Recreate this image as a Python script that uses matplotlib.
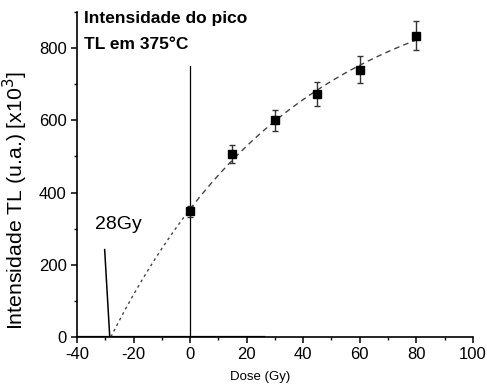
import numpy as np
import matplotlib
matplotlib.use("Agg")
import matplotlib.pyplot as plt
from matplotlib.ticker import MultipleLocator

plt.rcParams['font.family'] = ['Liberation Sans', 'DejaVu Sans']
plt.rcParams['axes.unicode_minus'] = False

dose = [0, 15, 30, 45, 60, 80]
intensity = [348, 507, 600, 673, 740, 835]
errors = [15, 25, 30, 33, 37, 40]
x_intercept = -28

fig = plt.figure(figsize=(4.87, 3.90), dpi=100)
ax = fig.add_axes([0.158, 0.136, 0.813, 0.833])

# saturating exponential fit y = A(1 - exp(-(x - x0)/k)) with x0 fixed at the intercept
d = np.array(dose, float)
yv = np.array(intensity, float)
best = None
for k in np.linspace(20, 300, 2801):
    f = 1 - np.exp(-(d - x_intercept) / k)
    A = np.dot(f, yv) / np.dot(f, f)
    r = np.sum((A * f - yv) ** 2)
    if best is None or r < best[0]:
        best = (r, A, k)
_, A, k = best
model = lambda x: A * (1 - np.exp(-(x - x_intercept) / k))
xf_fit = np.linspace(0, 80, 200)
xf_ext = np.linspace(x_intercept, 0, 100)
ax.plot(xf_fit, model(xf_fit), color='#444444', lw=1.0, ls=(0, (4, 3)))
ax.plot(xf_ext, model(xf_ext), color='#444444', lw=1.0, ls=(0, (2, 2.5)))

ax.errorbar(dose, intensity, yerr=errors, fmt='s', color='black', ms=5.5,
            ecolor='#333333', elinewidth=1.0, capsize=2.5, capthick=1.0, zorder=5)

ax.plot([0, 0], [0, 750], color='black', lw=0.9)
ax.plot([-40, 26], [0, 0], color='black', lw=1.6, zorder=1)
ax.plot([-30.2, -28.4], [242, 0], color='black', lw=1.1)
ax.text(-33.5, 298, '28Gy', fontsize=14)
ax.text(-37.6, 902, 'Intensidade do pico\nTL em 375°C', fontsize=12.5, fontweight='bold',
        va='top', linespacing=1.85)

ax.set_xlim(-40, 100)
ax.set_ylim(0, 900)
ax.xaxis.set_major_locator(MultipleLocator(20))
ax.xaxis.set_minor_locator(MultipleLocator(10))
ax.yaxis.set_major_locator(MultipleLocator(200))
ax.yaxis.set_minor_locator(MultipleLocator(100))
ax.set_yticks([0, 200, 400, 600, 800])
for s in ['top', 'right']:
    ax.spines[s].set_visible(False)
ax.spines['left'].set_linewidth(1.2)
ax.spines['bottom'].set_linewidth(1.2)
ax.tick_params(axis='both', which='major', direction='out', length=4, width=1.1, labelsize=12)
ax.tick_params(axis='both', which='minor', direction='out', length=2.5, width=1.0)
ax.set_xlabel('Dose (Gy)', fontsize=9.5, labelpad=3)
ax.xaxis.set_label_coords(0.462, -0.105)
ax.set_ylabel('Intensidade TL (u.a.) [x10$^3$]', fontsize=15.3)
ax.yaxis.set_label_coords(-0.119, 0.42)

fig.savefig('out.png', dpi=100)
